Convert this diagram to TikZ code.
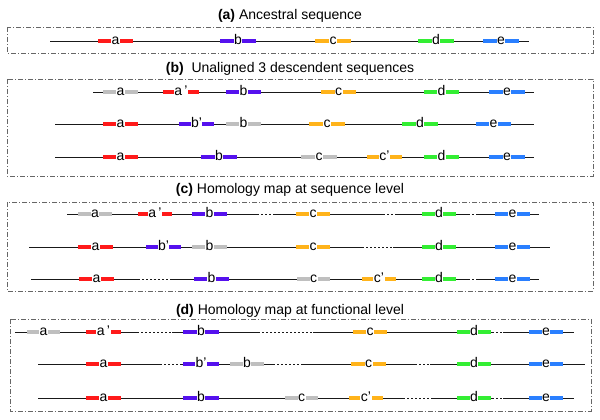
\documentclass[tikz,border=0pt]{standalone}
\usepackage{fontspec}
\setmainfont{Liberation Sans}
\definecolor{gred}{HTML}{FF1A1A}
\definecolor{gpur}{HTML}{5511EE}
\definecolor{gora}{HTML}{FFB31A}
\definecolor{ggrn}{HTML}{33EE33}
\definecolor{gblu}{HTML}{2A7FFF}
\definecolor{ggry}{HTML}{BFBFBF}
\tikzset{
  seqline/.style={line width=0.9pt, black!90},
  genebar/.style={line width=3.8pt},
  glabel/.style={font=\fontsize{14}{14}\selectfont, fill=white, inner xsep=0.5pt, inner ysep=0.4pt, anchor=base},
  panelbox/.style={draw=black!60, line width=0.8pt, dash pattern=on 5pt off 2pt on 1pt off 2pt},
  ptitle/.style={font=\fontsize{14}{14}\selectfont, anchor=base},
  gapfill/.style={white, line width=2.4pt},
  gapdots/.style={line width=0.9pt, black!90, dash pattern=on 1.5pt off 2.5pt},
}
\newcommand\gene[6]{\draw[genebar,#5] (#2,#4) -- (#3,#4);
  \node[glabel] (#1) at ({(#2+#3)/2},#4+3.8) {#6};}
\newcommand\gp[3]{\draw[gapfill] (#1,#3) -- (#2,#3); \draw[gapdots] (#1,#3) -- (#2,#3);}
\begin{document}
\begin{tikzpicture}[x=1pt,y=-1pt]
\useasboundingbox (0,0) rectangle (600,420);
% titles
\node[ptitle] (tA) at (290,20) {\textbf{(a)} Ancestral sequence};
\node[ptitle] (tB) at (290,73) {\textbf{(b)}\ \ Unaligned 3 descendent sequences};
\node[ptitle] (tC) at (290,193) {\textbf{(c)} Homology map at sequence level};
\node[ptitle] (tD) at (290,314) {\textbf{(d)} Homology map at functional level};
% boxes
\draw[panelbox] (7,27) rectangle (593,53);
\draw[panelbox] (7,79) rectangle (593,176);
\draw[panelbox] (7,202) rectangle (593,291);
\draw[panelbox] (10,319) rectangle (591,411);
% ---- (a)
\draw[seqline] (50,41) -- (529,41);
\gene{Aa}{98}{133}{41}{gred}{a}
\gene{Ab}{220}{256}{41}{gpur}{b}
\gene{Ac}{315}{351}{41}{gora}{c}
\gene{Ad}{418}{454}{41}{ggrn}{d}
\gene{Ae}{483}{519}{41}{gblu}{e}
% ---- (b)
\draw[seqline] (93,92) -- (534,92);
\gene{B1a}{103}{138}{92}{ggry}{a}
\gene{B1ap}{163}{199}{92}{gred}{a\,'}
\gene{B1b}{226}{261}{92}{gpur}{b}
\gene{B1c}{321}{356}{92}{gora}{c}
\gene{B1d}{424}{459}{92}{ggrn}{d}
\gene{B1e}{489}{525}{92}{gblu}{e}
\draw[seqline] (55,124) -- (534,124);
\gene{B2a}{103}{138}{124}{gred}{a}
\gene{B2bp}{179}{214}{124}{gpur}{b'}
\gene{B2b}{226}{261}{124}{ggry}{b}
\gene{B2c}{309}{345}{124}{gora}{c}
\gene{B2d}{402}{438}{124}{ggrn}{d}
\gene{B2e}{476}{511}{124}{gblu}{e}
\draw[seqline] (55,157) -- (534,157);
\gene{B3a}{103}{138}{157}{gred}{a}
\gene{B3b}{201}{237}{157}{gpur}{b}
\gene{B3c}{301}{337}{157}{ggry}{c}
\gene{B3cp}{367}{402}{157}{gora}{c'}
\gene{B3d}{424}{459}{157}{ggrn}{d}
\gene{B3e}{489}{525}{157}{gblu}{e}
% ---- (c)
\draw[seqline] (67,214) -- (539,214);
\gp{257}{275}{214}\gp{383}{395}{214}\gp{468}{478}{214}
\gene{C1a}{78}{112}{214}{ggry}{a}
\gene{C1ap}{138}{172}{214}{gred}{a\,'}
\gene{C1b}{192}{227}{214}{gpur}{b}
\gene{C1c}{296}{330}{214}{gora}{c}
\gene{C1d}{422}{456}{214}{ggrn}{d}
\gene{C1e}{495}{530}{214}{gblu}{e}
\draw[seqline] (29,247) -- (550,247);
\gp{362}{393}{247}
\gene{C2a}{78}{113}{247}{gred}{a}
\gene{C2bp}{146}{181}{247}{gpur}{b'}
\gene{C2b}{192}{227}{247}{ggry}{b}
\gene{C2c}{296}{330}{247}{gora}{c}
\gene{C2d}{422}{456}{247}{ggrn}{d}
\gene{C2e}{495}{530}{247}{gblu}{e}
\draw[seqline] (31,279) -- (539,279);
\gp{138}{172}{279}\gp{468}{478}{279}
\gene{C3a}{79}{114}{279}{gred}{a}
\gene{C3b}{194}{229}{279}{gpur}{b}
\gene{C3c}{297}{330}{279}{ggry}{c}
\gene{C3cp}{362}{396}{279}{gora}{c'}
\gene{C3d}{422}{456}{279}{ggrn}{d}
\gene{C3e}{495}{530}{279}{gblu}{e}
% ---- (d)
\draw[seqline] (15,332) -- (574,332);
\gp{137}{172}{332}\gp{258}{313}{332}\gp{492}{503}{332}
\gene{D1a}{27}{60}{332}{ggry}{a}
\gene{D1ap}{86}{121}{332}{gred}{a\,'}
\gene{D1b}{183}{219}{332}{gpur}{b}
\gene{D1c}{353}{387}{332}{gora}{c}
\gene{D1d}{457}{491}{332}{ggrn}{d}
\gene{D1e}{529}{563}{332}{gblu}{e}
\draw[seqline] (38,364) -- (585,364);
\gp{160}{182}{364}\gp{273}{302}{364}\gp{415}{430}{364}
\gene{D2a}{86}{121}{364}{gred}{a}
\gene{D2bp}{183}{219}{364}{gpur}{b'}
\gene{D2b}{230}{264}{364}{ggry}{b}
\gene{D2c}{351}{386}{364}{gora}{c}
\gene{D2d}{457}{491}{364}{ggrn}{d}
\gene{D2e}{529}{563}{364}{gblu}{e}
\draw[seqline] (38,398) -- (574,398);
\gp{403}{432}{398}\gp{492}{503}{398}
\gene{D3a}{86}{121}{398}{gred}{a}
\gene{D3b}{183}{219}{398}{gpur}{b}
\gene{D3c}{285}{318}{398}{ggry}{c}
\gene{D3cp}{349}{383}{398}{gora}{c'}
\gene{D3d}{457}{491}{398}{ggrn}{d}
\gene{D3e}{529}{563}{398}{gblu}{e}
\end{tikzpicture}
\end{document}
